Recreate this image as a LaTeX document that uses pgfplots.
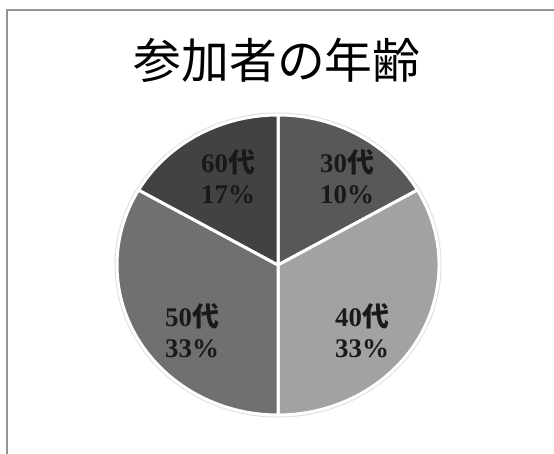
\documentclass[border=0pt]{standalone}
\usepackage{fontspec}
\setmainfont{Liberation Serif}
\newfontfamily\cjk{Noto Sans CJK JP}
\usepackage{pgfplots}
\usepackage{pgfplotstable}
\pgfplotsset{compat=1.18}

\definecolor{s30}{HTML}{585858}
\definecolor{s40}{HTML}{A2A2A2}
\definecolor{s50}{HTML}{707070}
\definecolor{s60}{HTML}{424242}

% share = slice size as drawn (%), pct = printed label
\pgfplotstableread{
lbl pct share col lx ly
30 10 16.667 s30 347 177
40 33 33.333 s40 362 331
50 33 33.333 s50 192 331
60 17 16.667 s60 228 177
}\agetable

\newcommand\slicelabel[2]{#1{\cjk 代}\\#2\%}

\begin{document}
\begin{tikzpicture}[x=1bp,y=1bp]
\path[use as bounding box] (0,0) rectangle (554,454);
\fill[white] (0,0) rectangle (554,454);
\begin{axis}[
    at={(0,0)},anchor=south west,
    scale only axis,width=554bp,height=454bp,
    xmin=0,xmax=554,ymin=0,ymax=454,
    y dir=reverse,
    hide axis,clip=false,
]
    \draw[gray!85, line width=2bp] (axis cs:7,460) -- (axis cs:7,10) -- (axis cs:560,10);
    \node[font=\cjk\fontsize{48}{52}\selectfont] at (axis cs:277,60) {参加者の年齢};
    \draw[gray!25, line width=3bp] (axis cs:278,265) ellipse [x radius=162bp, y radius=151bp];
    \xdef\angstart{90}
    \pgfplotsinvokeforeach{0,...,3}{
        \pgfplotstablegetelem{#1}{share}\of\agetable \global\let\sh\pgfplotsretval
        \pgfplotstablegetelem{#1}{col}\of\agetable \global\let\cl\pgfplotsretval
        \pgfmathsetmacro\angend{\angstart-3.6*\sh}
        \edef\tmp{\noexpand\fill[\cl, draw=white, line width=3bp, line join=round]
            (axis cs:278,265) -- ++(\angstart:161bp and 150bp)
            arc[start angle=\angstart, end angle=\angend, x radius=161bp, y radius=150bp] -- cycle;}
        \tmp
        \xdef\angstart{\angend}
    }
    \pgfplotsinvokeforeach{0,...,3}{
        \pgfplotstablegetelem{#1}{lbl}\of\agetable \global\let\lb\pgfplotsretval
        \pgfplotstablegetelem{#1}{pct}\of\agetable \global\let\pc\pgfplotsretval
        \pgfplotstablegetelem{#1}{lx}\of\agetable \global\let\lx\pgfplotsretval
        \pgfplotstablegetelem{#1}{ly}\of\agetable \global\let\ly\pgfplotsretval
        \edef\tmp{\noexpand\node[align=center, text=black!90,
            font=\noexpand\bfseries\noexpand\fontsize{27}{31}\noexpand\selectfont]
            at (axis cs:\lx,\ly) {\noexpand\slicelabel{\lb}{\pc}};}
        \tmp
    }
\end{axis}
\end{tikzpicture}
\end{document}
